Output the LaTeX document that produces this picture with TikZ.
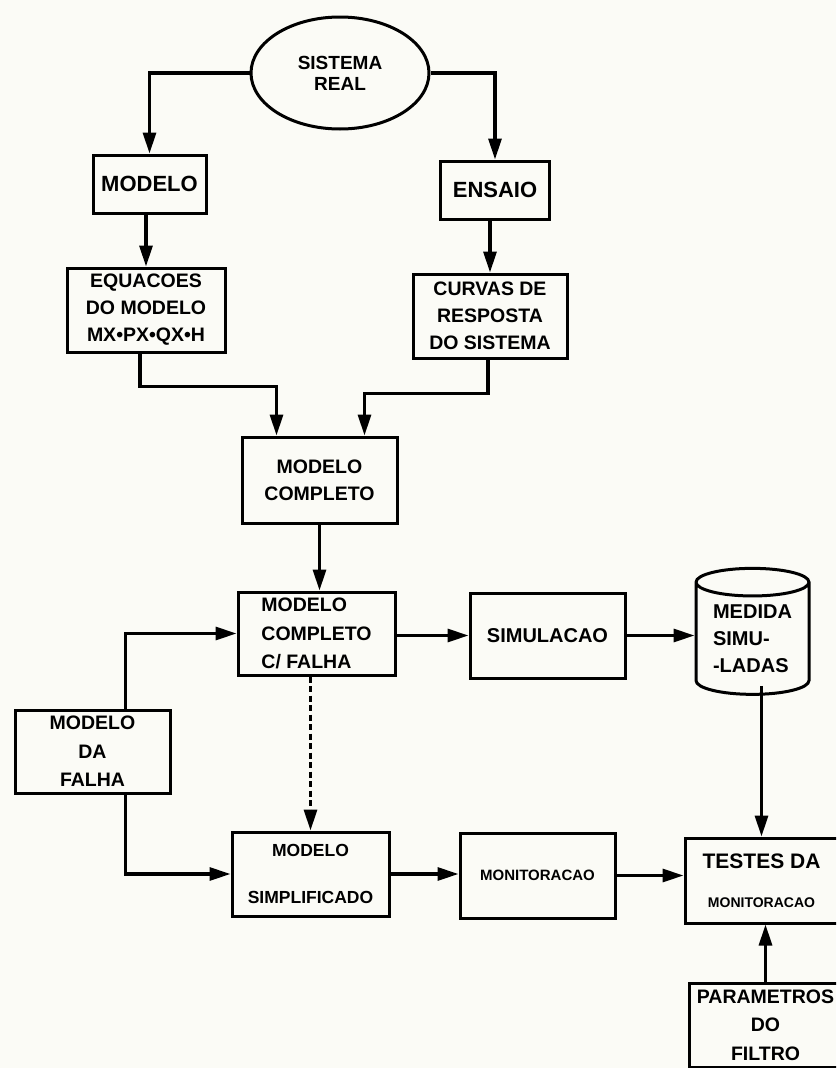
\documentclass[tikz,border=0pt]{standalone}
\usepackage{fontspec}
\setmainfont{Liberation Sans}
\usepackage{tikz}
\usetikzlibrary{arrows.meta,positioning,calc,shapes.geometric}
\definecolor{papel}{RGB}{251,251,246}

\begin{document}
\begin{tikzpicture}[x=1pt, y=-1pt,
	caixa/.style={draw, line width=3pt, inner sep=0pt, align=center, minimum width=155pt, minimum height=84pt, font=\bfseries\fontsize{19.5}{27}\selectfont},
	seta/.style={line width=3.2pt, -{Triangle[length=21pt,width=13pt]}}]
	\useasboundingbox (0,0) rectangle (836,1068);
	\clip (0,0) rectangle (836,1068);
	\fill[papel] (0,0) rectangle (836,1068);

	\node[caixa, ellipse, minimum width=178pt, minimum height=112pt, font=\bfseries\fontsize{19}{21}\selectfont] (A) at (340,73) {SISTEMA\\REAL};
	\node[caixa, minimum width=113pt, minimum height=58pt, font=\bfseries\fontsize{22}{27}\selectfont] (B) at (149.5,184) {MODELO};
	\node[caixa, minimum width=109pt, minimum height=58pt, font=\bfseries\fontsize{22}{27}\selectfont] (C) at (495,190) {ENSAIO};
	\node[caixa, minimum width=158pt] (D) at (146,310) {EQUACOES\\DO MODELO\\MX•PX•QX•H};
	\node[caixa, minimum width=154pt] (E) at (490,316) {CURVAS DE\\RESPOSTA\\DO SISTEMA};
	\node[caixa, minimum height=86pt] (F) at (319.5,480) {MODELO\\COMPLETO};
	\node[caixa, minimum width=157pt, minimum height=83pt, align=left, font=\bfseries\fontsize{19.5}{28.5}\selectfont] (G) at (316.5,633.5) {MODELO\\COMPLETO\\C/ FALHA};
	\node[caixa, minimum height=83pt, font=\bfseries\fontsize{19.5}{28.5}\selectfont] (H) at (92.5,751.5) {MODELO\\DA\\FALHA};
	\node[caixa, minimum width=157pt, font=\bfseries\fontsize{17.5}{27}\selectfont] (I) at (310.5,874) {MODELO\\[20pt]SIMPLIFICADO};
	\node[caixa, minimum height=85pt, font=\bfseries\fontsize{20}{27}\selectfont] (J) at (547.5,635.5) {SIMULACAO};
	\node[caixa, cylinder, shape border rotate=90, aspect=0.35, minimum width=113pt, minimum height=126pt, align=left, font=\bfseries\fontsize{20}{27}\selectfont] (K) at (752.5,639) {MEDIDA\\SIMU-\\-LADAS};
	\node[caixa, minimum height=85pt, font=\bfseries\fontsize{15}{27}\selectfont] (L) at (537.5,875.5) {MONITORACAO};
	\node[caixa, minimum width=153pt, minimum height=85pt, font=\bfseries\fontsize{21}{27}\selectfont] (M) at (761.5,880.5) {TESTES DA\\[12pt]{\fontsize{14}{27}\selectfont MONITORACAO}};
	\node[caixa, minimum width=153pt, font=\bfseries\fontsize{19.5}{28.5}\selectfont] (N) at (765.5,1025) {PARAMETROS\\DO\\FILTRO};

	\draw[seta] (A.west) -| (B.north);
	\draw[seta] (A.east) -| (C.north);
	\draw[seta] (B.south -| D.north) -- (D.north);
	\draw[seta] (C.south -| E.north) -- (E.north);
	\draw[seta] ([xshift=-6pt]D.south) -- ++(0,33) -| ([xshift=-43pt]F.north);
	\draw[seta] ([xshift=-2pt]E.south) -- ++(0,34) -| ([xshift=45pt]F.north);
	\draw[seta] (F.south) -- (F.south |- G.north);
	\draw[seta] ([xshift=33pt]H.north) |- (G.west);
	\draw[seta, dash pattern=on 6pt off 3.5pt] (G.south -| I.north) -- (I.north);
	\draw[seta] ([xshift=33pt]H.south) |- (I.west);
	\draw[seta] (G.east |- J.west) -- (J.west);
	\draw[seta] (J.east) -- (J.east -| K.west);
	\draw[seta] ($(M.north |- K.south)+(0,-10)$) -- (M.north);
	\draw[seta] (I.east) -- (I.east -| L.west);
	\draw[seta] (L.east) -- (L.east -| M.west);
	\draw[seta] (N.north) -- (N.north |- M.south);
\end{tikzpicture}
\end{document}
